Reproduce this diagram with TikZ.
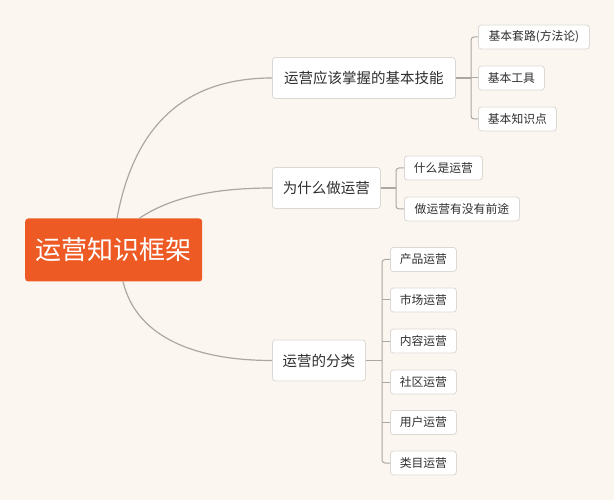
\documentclass[tikz,border=0pt]{standalone}
\usepackage{fontspec}
\setmainfont{Noto Sans CJK SC}
\definecolor{bgc}{HTML}{FCF6F1}
\definecolor{rootc}{HTML}{EE5A24}
\definecolor{linec}{HTML}{ABA7A2}
\definecolor{boxline}{HTML}{DCD8D3}
\definecolor{txt}{HTML}{2E2E2E}
\begin{document}
\begin{tikzpicture}[x=1pt,y=-1pt,
  rootbox/.style={fill=rootc,rounded corners=3pt,text=white,font=\fontsize{26}{29}\selectfont,minimum width=177pt,minimum height=63pt,inner sep=0pt,anchor=west},
  branchbox/.style={draw=boxline,line width=0.8pt,fill=white,rounded corners=3pt,text=txt,font=\fontsize{14.5}{16}\selectfont,minimum height=41pt,inner xsep=9pt,inner ysep=0pt,anchor=west},
  leafbox/.style={draw=boxline,line width=0.8pt,fill=white,rounded corners=3pt,text=txt,font=\fontsize{11.8}{13}\selectfont,minimum height=24pt,inner xsep=7pt,inner ysep=0pt,anchor=west},
  conn/.style={draw=linec,line width=1.2pt},
  brk/.style={draw=linec,line width=1pt,rounded corners=3pt}]
\fill[bgc] (0,0) rectangle (614,500);
\useasboundingbox (0,0) rectangle (614,500);

\node[rootbox] (root) at (25,250) {运营知识框架};

\node[branchbox,minimum width=183pt] (b1) at (272,78) {运营应该掌握的基本技能};
\node[branchbox,minimum width=108pt] (b2) at (272,188) {为什么做运营};
\node[branchbox,minimum width=93pt] (b3) at (272,360.5) {运营的分类};

\node[leafbox,minimum width=111pt] (l11) at (478,37) {基本套路(方法论)};
\node[leafbox,minimum width=66pt] (l12) at (478,78) {基本工具};
\node[leafbox,minimum width=78pt] (l13) at (478,119) {基本知识点};

\node[leafbox,minimum width=78pt] (l21) at (404,168) {什么是运营};
\node[leafbox,minimum width=115pt] (l22) at (404,209) {做运营有没有前途};

\node[leafbox,minimum width=66pt] (l31) at (390,259.5) {产品运营};
\node[leafbox,minimum width=66pt] (l32) at (390,300) {市场运营};
\node[leafbox,minimum width=66pt] (l33) at (390,341) {内容运营};
\node[leafbox,minimum width=66pt] (l34) at (390,382) {社区运营};
\node[leafbox,minimum width=66pt] (l35) at (390,422.5) {用户运营};
\node[leafbox,minimum width=66pt] (l36) at (390,463) {类目运营};

\coordinate (r1) at (117,218.5);
\coordinate (r2) at (139,218.5);
\coordinate (r3) at (123,281.5);
\draw[conn] (r1) .. controls (135,120) and (190,78) .. (b1.west);
\draw[conn] (r2) .. controls (175,194) and (225,188) .. (b2.west);
\draw[conn] (r3) .. controls (137,340) and (200,360.5) .. (b3.west);

\coordinate (k1) at (471,78);
\draw[conn] (b1.east) -- (k1);
\draw[brk] (l11.west) -| (k1) |- (l13.west);
\draw[brk] (k1) -- (l12.west);

\coordinate (k2) at (396,188);
\draw[conn] (b2.east) -- (k2);
\draw[brk] (l21.west) -| (k2) |- (l22.west);

\coordinate (k3) at (382,360.5);
\draw[conn] (b3.east) -- (k3);
\draw[brk] (l31.west) -| (k3) |- (l36.west);
\foreach \n in {l32,l33,l34,l35} \draw[brk] (\n.west) -- ++(-8,0);
\end{tikzpicture}
\end{document}
